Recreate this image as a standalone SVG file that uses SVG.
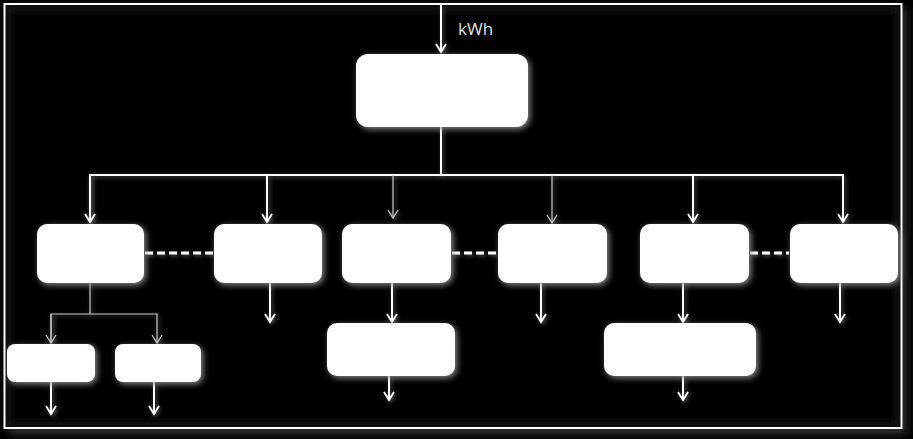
<svg xmlns="http://www.w3.org/2000/svg" width="913" height="439" viewBox="0 0 913 439">
<defs>
<style>
.box{fill:#ffffff;filter:url(#glow)}
.ln{fill:none;stroke:#ffffff;stroke-width:2;filter:url(#lglow)}
.thin{fill:none;stroke:#c8c8c8;stroke-width:1.2;filter:url(#lglow)}
.dash{fill:none;stroke:#ffffff;stroke-width:3;stroke-dasharray:8 4;filter:url(#lglow)}
.lbl{font-family:"Open Sans","DejaVu Sans",sans-serif;font-size:17px;fill:#e2e2e2}
</style>
<filter id="glow" x="-30%" y="-30%" width="160%" height="160%">
<feDropShadow dx="2" dy="2" stdDeviation="3" flood-color="#9a9a9a" flood-opacity="0.9"/>
</filter>
<filter id="lglow" filterUnits="userSpaceOnUse" x="0" y="0" width="913" height="439">
<feDropShadow dx="1.5" dy="1.5" stdDeviation="2" flood-color="#777" flood-opacity="0.8"/>
</filter>
<filter id="fshadow" filterUnits="userSpaceOnUse" x="0" y="0" width="913" height="439">
<feGaussianBlur stdDeviation="4"/>
</filter>
<marker id="ah" viewBox="-10 -7 12 14" markerWidth="12" markerHeight="14" refX="0" refY="0" orient="auto" markerUnits="userSpaceOnUse" overflow="visible">
<path d="M-8,-5 L0,0 L-8,5" fill="none" stroke="#ffffff" stroke-width="1.8"/>
</marker>
<marker id="aht" viewBox="-10 -7 12 14" markerWidth="12" markerHeight="14" refX="0" refY="0" orient="auto" markerUnits="userSpaceOnUse" overflow="visible">
<path d="M-8,-5 L0,0 L-8,5" fill="none" stroke="#c8c8c8" stroke-width="1.2"/>
</marker>
</defs>
<rect x="0" y="0" width="913" height="439" fill="#000"/>
<g id="frame">
<rect x="9" y="8" width="898" height="427" fill="#2a2a2a" filter="url(#fshadow)"/>
<rect x="4" y="4" width="897" height="424" fill="#000"/>
<rect x="7" y="7" width="892" height="419" fill="none" stroke="#2a2a2a" stroke-width="4" filter="url(#fshadow)"/>
<rect x="4.5" y="4" width="897" height="424" fill="none" stroke="#ffffff" stroke-width="2"/>
</g>
<g id="connectors">
<line class="ln" x1="441" y1="5" x2="441" y2="52" marker-end="url(#ah)"/>
<polyline class="ln" points="441,127 441,175"/>
<polyline class="ln" points="90,222 90,175 843,175 843,222" marker-end="url(#ah)"/>
<line class="ln" x1="90" y1="175" x2="90" y2="222" marker-end="url(#ah)"/>
<line class="ln" x1="267" y1="175" x2="267" y2="222" marker-end="url(#ah)"/>
<line class="thin" x1="393" y1="175" x2="393" y2="218" marker-end="url(#aht)"/>
<line class="thin" x1="552" y1="175" x2="552" y2="223" marker-end="url(#aht)"/>
<line class="ln" x1="693" y1="175" x2="693" y2="222" marker-end="url(#ah)"/>
<line class="dash" x1="145" y1="253" x2="213" y2="253"/>
<line class="dash" x1="452" y1="253" x2="497" y2="253"/>
<line class="dash" x1="750" y1="253" x2="789" y2="253"/>
<polyline class="thin" points="90,283 90,314"/>
<polyline class="thin" points="51,343 51,314 157,314 157,343" marker-end="url(#aht)"/>
<line class="thin" x1="51" y1="314" x2="51" y2="343" marker-end="url(#aht)"/>
<line class="ln" x1="51" y1="382" x2="51" y2="414" marker-end="url(#ah)"/>
<line class="ln" x1="154" y1="382" x2="154" y2="414" marker-end="url(#ah)"/>
<line class="ln" x1="270" y1="283" x2="270" y2="322" marker-end="url(#ah)"/>
<line class="ln" x1="392" y1="283" x2="392" y2="322" marker-end="url(#ah)"/>
<line class="ln" x1="389" y1="376" x2="389" y2="400" marker-end="url(#ah)"/>
<line class="ln" x1="541" y1="283" x2="541" y2="322" marker-end="url(#ah)"/>
<line class="ln" x1="683" y1="283" x2="683" y2="322" marker-end="url(#ah)"/>
<line class="ln" x1="683" y1="376" x2="683" y2="400" marker-end="url(#ah)"/>
<line class="ln" x1="840" y1="283" x2="840" y2="322" marker-end="url(#ah)"/>
</g>
<text class="lbl" x="458" y="35">kWh</text>
<g id="n-top"><rect class="box" x="356" y="54" width="172" height="73" rx="12"/></g>
<g id="n1"><rect class="box" x="37" y="224" width="107" height="59" rx="10"/></g>
<g id="n2"><rect class="box" x="214" y="224" width="108" height="59" rx="10"/></g>
<g id="n3"><rect class="box" x="342" y="224" width="109" height="59" rx="10"/></g>
<g id="n4"><rect class="box" x="498" y="224" width="109" height="59" rx="10"/></g>
<g id="n5"><rect class="box" x="640" y="224" width="109" height="59" rx="10"/></g>
<g id="n6"><rect class="box" x="790" y="224" width="108" height="59" rx="10"/></g>
<g id="n1a"><rect class="box" x="7" y="344" width="88" height="38" rx="8"/></g>
<g id="n1b"><rect class="box" x="115" y="344" width="86" height="38" rx="8"/></g>
<g id="n3a"><rect class="box" x="327" y="323" width="128" height="53" rx="10"/></g>
<g id="n5a"><rect class="box" x="604" y="323" width="152" height="53" rx="10"/></g>
</svg>
